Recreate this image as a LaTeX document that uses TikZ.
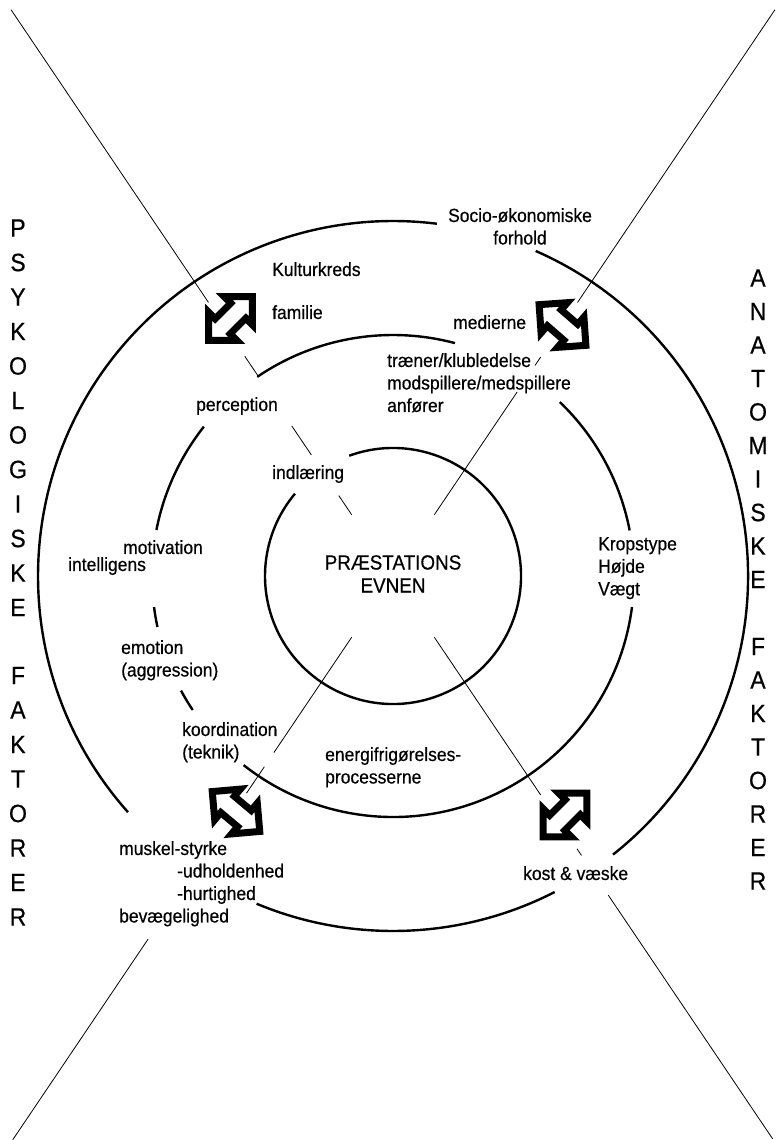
\documentclass[tikz,border=0pt]{standalone}
\usepackage{fontspec}
\setmainfont{Liberation Sans}[FakeStretch=0.92, FakeBold=0.5]
\usetikzlibrary{calc}
\usetikzlibrary{shapes.arrows}
\tikzset{
	bue/.style={draw, line width=2.4pt},
	linje/.style={draw, line width=0.8pt},
	tekst/.style={
		inner sep=0pt,
		anchor=north west,
		align=left,
		font=\fontsize{19}{22.5}\selectfont},
	bogstav/.style={inner sep=0pt, font=\fontsize{25}{25}\selectfont},
	pil/.style={
		double arrow,
		draw=black, fill=white,
		line width=7pt,
		minimum height=62pt,
		minimum width=40pt,
		inner sep=4.5pt},
}
\begin{document}
\begin{tikzpicture}[x=1pt, y=-1pt]
	\useasboundingbox (0,0) rectangle (776,1140);
	\coordinate (C) at (393,576);
	% cirklerne
	\foreach \r/\a/\b in {128/-110/220,
			241/-124.3/-75.1, 241/-169/-141.7, 241/167.8/172.6, 241/146.2/151.6,
			241/7.4/128.3, 241/-46.2/-10.9,
			355/-221.7/-82.9, 355/-66.3/51.7, 355/62.9/112.6}
		\draw[bue] (C) ++(\a:\r) arc[start angle=\a, end angle=\b, radius=\r];
	% skraa linjer
	\foreach \v/\ta/\tb in {-124/74/97, -124/146/181, -124/241/265, -124/330/683,
			-56/74/222, -56/254/264, -56/330/683,
			56/74/264, 56/329/337, 56/385/679,
			124/74/213, 124/230/262, 124/438/680}
		\draw[linje] ($(C)+(\v:\ta)$) -- ($(C)+(\v:\tb)$);
	% pile
	\node[pil, rotate=45] (pilA) at (230.5,318.5) {};
	\node[pil, rotate=-41] (pilB) at (562.5,325) {};
	\node[pil, rotate=-40] (pilC) at (236,811.5) {};
	\node[pil, rotate=45] (pilD) at (565,815) {};
	% tekster
	\node[tekst, anchor=north, align=center] (socio) at (520,208) {Socio-økonomiske\\forhold};
	\node[tekst] (kultur) at (272,262) {Kulturkreds};
	\node[tekst] (familie) at (272,305) {familie};
	\node[tekst] (medier) at (453,315) {medierne};
	\node[tekst] (traener) at (387,353) {træner/klubledelse\\modspillere/medspillere\\anfører};
	\node[tekst] (perception) at (196,397) {perception};
	\node[tekst] (indlaering) at (272,465) {indlæring};
	\node[tekst] (motivation) at (123,540) {motivation};
	\node[tekst] (intelligens) at (68,557) {intelligens};
	\node[tekst, anchor=north, align=center, font=\fontsize{20.5}{23}\selectfont] (evnen) at (393,555) {PRÆSTATIONS\\EVNEN};
	\node[tekst] (krop) at (598,537) {Kropstype\\Højde\\Vægt};
	\node[tekst] (emotion) at (121,640) {emotion\\(aggression)};
	\node[tekst] (koordination) at (182,722) {koordination\\(teknik)};
	\node[tekst] (energi) at (325,747) {energifrigørelses-\\processerne};
	\node[tekst] (muskel) at (119,841) {muskel-styrke\\\hspace*{58pt}-udholdenhed\\\hspace*{58pt}-hurtighed\\bevægelighed};
	\node[tekst] (kost) at (523,866) {kost \& væske};
	% bogstaver i siderne
	\foreach \ch [count=\i] in {P,S,Y,K,O,L,O,G,I,S,K,E}
		\node[bogstav] (psyk\i) at (18,{228+34.5*(\i-1)}) {\ch};
	\foreach \ch [count=\i] in {F,A,K,T,O,R,E,R}
		\node[bogstav] (fakv\i) at (18,{675.5+34.5*(\i-1)}) {\ch};
	\foreach \ch [count=\i] in {A,N,A,T,O,M,I,S,K,E}
		\node[bogstav] (anat\i) at (758,{278+33.5*(\i-1)}) {\ch};
	\foreach \ch [count=\i] in {F,A,K,T,O,R,E,R}
		\node[bogstav] (fakh\i) at (758,{646.5+33.5*(\i-1)}) {\ch};
\end{tikzpicture}
\end{document}
